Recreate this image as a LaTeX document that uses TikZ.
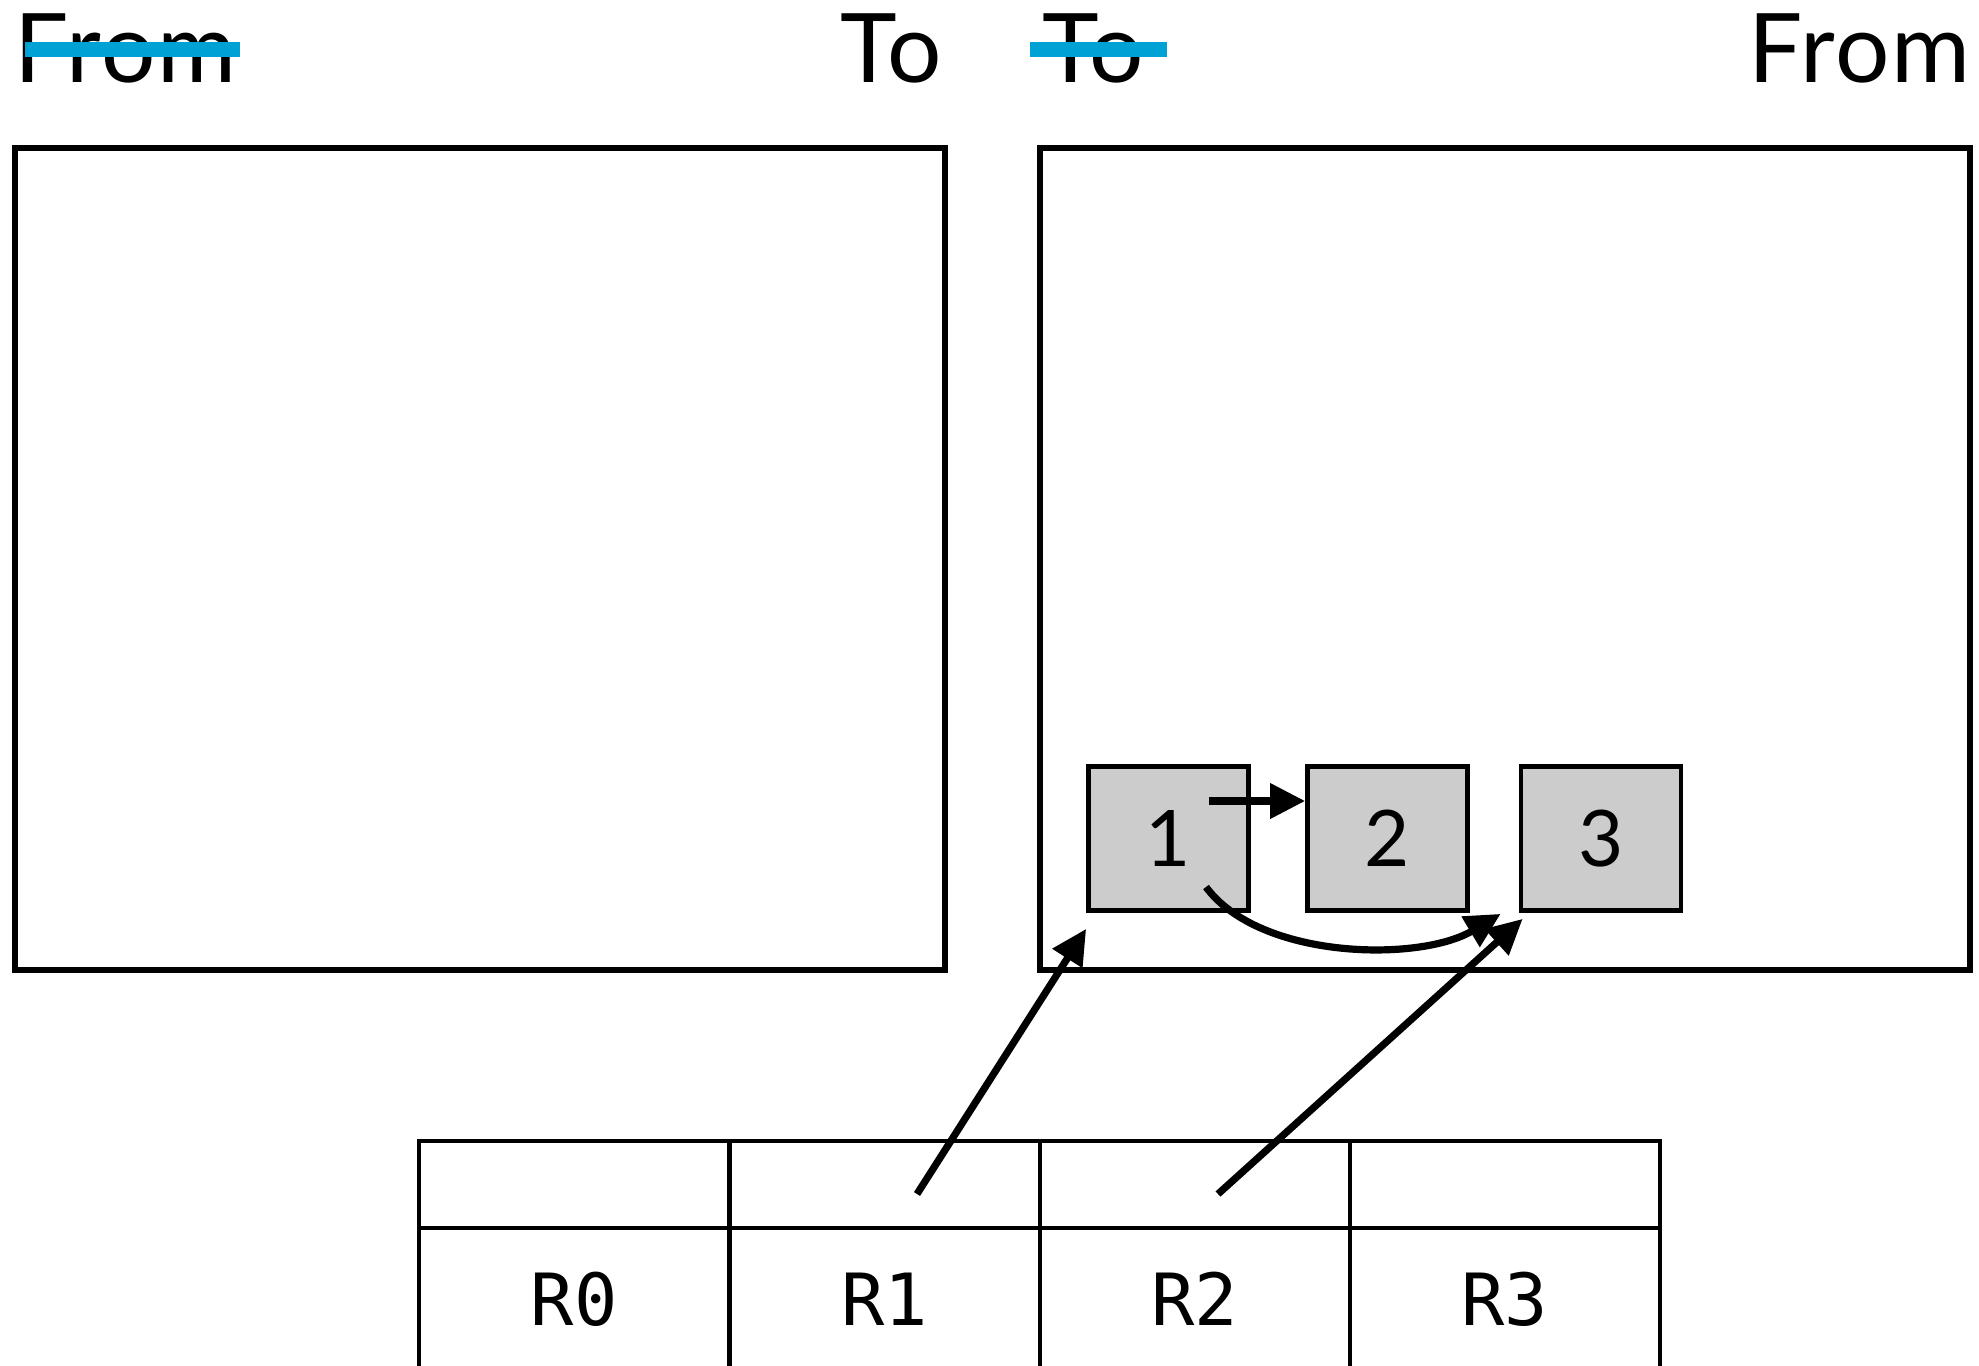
\documentclass[tikz,border=0pt]{standalone}
\usepackage{fontspec}
\setmainfont{Lato}
\newfontfamily\monofnt{DejaVu Sans Mono}
\newfontfamily\lblfnt[LetterSpace=2]{Lato}
\usetikzlibrary{arrows.meta,calc}
\definecolor{strikeblue}{HTML}{00A2D5}
\definecolor{boxgray}{HTML}{CCCCCC}
\tikzset{
  bigbox/.style={draw, line width=2.7pt, minimum width=465pt, minimum height=411pt, inner sep=0pt},
  sqbox/.style={draw, fill=boxgray, line width=2.4pt, minimum width=80pt, minimum height=72pt, inner sep=0pt, font=\fontsize{39}{40}\selectfont},
  topcell/.style={draw, line width=2pt, minimum width=155pt, minimum height=43.5pt, inner sep=0pt},
  botcell/.style={draw, line width=2pt, minimum width=155pt, minimum height=71pt, inner sep=0pt, font=\monofnt\fontsize{36}{38}\selectfont},
  lbl/.style={inner sep=0pt, font=\lblfnt\fontsize{48}{50}\selectfont},
  strike/.style={draw=strikeblue, line width=7.5pt},
  conn/.style={line width=3.6pt, -{Triangle[length=17.5pt, width=17pt]}}
}
\begin{document}
\begin{tikzpicture}[x=0.5pt, y=-0.5pt]
\useasboundingbox (0,0) rectangle (1979,1365);
% headings
\node[lbl, anchor=base west] (fromL) at (14,82) {From};
\node[lbl, anchor=base east] (toL) at (942,82) {To};
\node[lbl, anchor=base west] (toR) at (1042,82) {To};
\node[lbl, anchor=base east] (fromR) at (1971,82) {From};
\draw[strike] (25,49) -- (240,49);
\draw[strike] (1030,49) -- (1167,49);
% big boxes
\node[bigbox] (L) at (480,559) {};
\node[bigbox] (R) at (1505,559) {};
% squares
\node[sqbox] (s1) at (1168.5,838.5) {1};
\node[sqbox] (s2) at (1387.5,838.5) {2};
\node[sqbox] (s3) at (1601,838.5) {3};
% table
\foreach \i/\x in {0/574,1/884.5,2/1194.5,3/1504.5}{
  \node[topcell] (t\i) at (\x,1184.5) {};
  \node[botcell] (b\i) at (\x,1299) {R\i};
}
% connectors
\coordinate (a1) at ($(s1.center)+(40.5,-37.5)$);
\draw[conn] (a1) -- (s2.west |- a1);
\coordinate (c1) at ($(s1.center)+(37.5,48.5)$);
\coordinate (c3) at ($(s3.south west)+(-18,1)$);
\draw[conn] (c1) .. controls (1260,960) and (1420,962) .. (c3);
\coordinate (r1) at ($(t1.center)+(32.5,9.5)$);
\coordinate (e1) at ($(s1.south west)+(0,16)$);
\draw[conn] (r1) -- (e1);
\coordinate (r2) at ($(t2.center)+(23.5,9.5)$);
\coordinate (e3) at ($(s3.south west)+(4,6)$);
\draw[conn] (r2) -- (e3);
\end{tikzpicture}
\end{document}
